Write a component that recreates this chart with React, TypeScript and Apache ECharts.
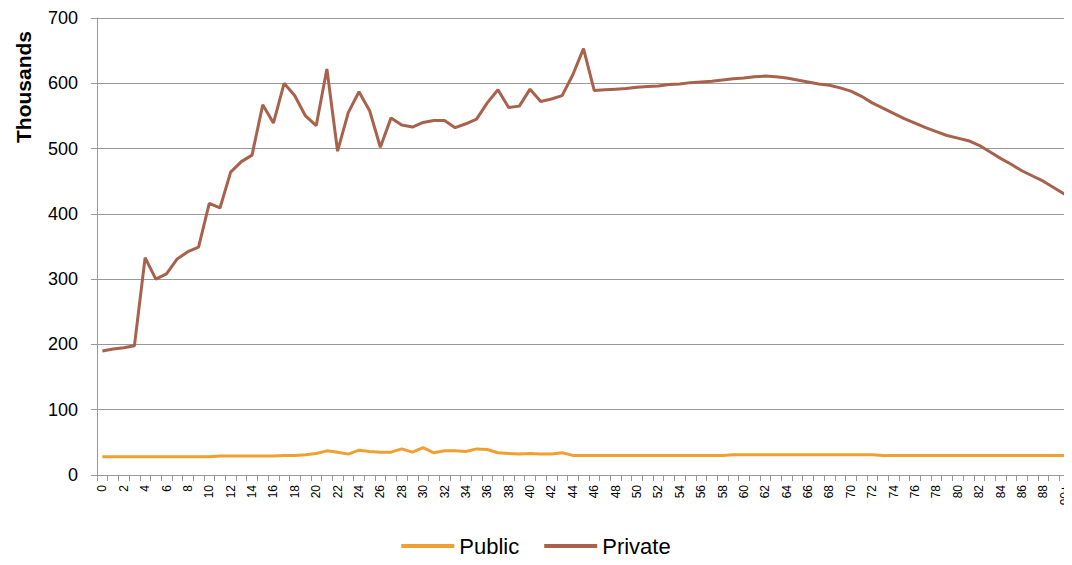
import React, { useEffect, useRef } from "react";
import * as echarts from "echarts";

const categories: string[] = [];
for (let i = 0; i < 90; i++) categories.push(String(i));
categories.push("90+");

const publicValues = [
  28, 28, 28, 28, 28, 28, 28, 28, 28, 28,
  28, 29, 29, 29, 29, 29, 29, 30, 30, 31,
  33, 37, 35, 32, 38, 36, 35, 35, 40, 35,
  42, 34, 37, 37, 36, 40, 39, 34, 33, 32,
  33, 32, 32, 34, 30, 30, 30, 30, 30, 30,
  30, 30, 30, 30, 30, 30, 30, 30, 30, 31,
  31, 31, 31, 31, 31, 31, 31, 31, 31, 31,
  31, 31, 31, 30, 30, 30, 30, 30, 30, 30,
  30, 30, 30, 30, 30, 30, 30, 30, 30, 30,
  30,
];

const privateValues = [
  190, 193, 195, 198, 333, 300, 308, 331, 342, 349,
  416, 409, 464, 480, 490, 567, 539, 600, 581, 550,
  535, 622, 496, 555, 587, 558, 502, 547, 536, 533,
  540, 543, 543, 532, 538, 545, 570, 590, 563, 565,
  591, 572, 576, 581, 613, 653, 589, 590, 591, 592,
  594, 595, 596, 598, 599, 601, 602, 603, 605, 607,
  608, 610, 611, 610, 608, 605, 602, 599, 597, 593,
  588, 580, 570, 562, 554, 546, 539, 532, 526, 520,
  516, 512, 505, 495, 485, 476, 466, 458, 450, 440,
  430,
];

const yTicks = { min: 0, max: 700, interval: 100 };

const FONT = "'Liberation Sans', 'Open Sans', sans-serif";

export default function App() {
  const ref = useRef<HTMLDivElement>(null);
  useEffect(() => {
    if (!ref.current) return;
    const chart = echarts.init(ref.current, undefined, { renderer: "svg" });
    chart.setOption({
      animation: false,
      backgroundColor: "#ffffff",
      grid: { left: 97, right: 2, top: 18, bottom: 90, containLabel: false },
      graphic: [
        {
          type: "text",
          x: 23,
          y: 87,
          rotation: Math.PI / 2,
          style: {
            text: "Thousands",
            fontFamily: FONT,
            fontSize: 21,
            fontWeight: "bold",
            fill: "#000",
            align: "center",
            verticalAlign: "middle",
          },
        },
      ],
      legend: {
        top: 535,
        left: "center",
        itemWidth: 53,
        itemHeight: 4,
        itemGap: 25,
        icon: "rect",
        padding: 0,
        textStyle: { fontFamily: FONT, fontSize: 22, color: "#000" },
        data: ["Public", "Private"],
      },
      xAxis: {
        type: "category",
        data: categories,
        boundaryGap: true,
        axisLine: { lineStyle: { color: "#999", width: 1 } },
        axisTick: { show: true, interval: 0, length: 6, lineStyle: { color: "#999" } },
        axisLabel: {
          interval: 1,
          rotate: 90,
          fontFamily: FONT,
          fontSize: 12,
          color: "#000",
          margin: 10,
        },
      },
      yAxis: {
        type: "value",
        min: yTicks.min,
        max: yTicks.max,
        interval: yTicks.interval,
        axisLine: { show: true, lineStyle: { color: "#999", width: 1 } },
        axisTick: { show: true, length: 6, lineStyle: { color: "#999" } },
        axisLabel: { fontFamily: FONT, fontSize: 18, color: "#000", margin: 19 },
        splitLine: { lineStyle: { color: "#999", width: 1 } },
      },
      series: [
        {
          name: "Public",
          type: "line",
          data: publicValues,
          showSymbol: false,
          symbol: "none",
          lineStyle: { color: "#F0A030", width: 3 },
          itemStyle: { color: "#F0A030" },
        },
        {
          name: "Private",
          type: "line",
          data: privateValues,
          showSymbol: false,
          symbol: "none",
          lineStyle: { color: "#A8624C", width: 3 },
          itemStyle: { color: "#A8624C" },
        },
      ],
    });
    return () => chart.dispose();
  }, []);
  return <div ref={ref} style={{ width: 1072, height: 565, margin: -8 }} />;
}
